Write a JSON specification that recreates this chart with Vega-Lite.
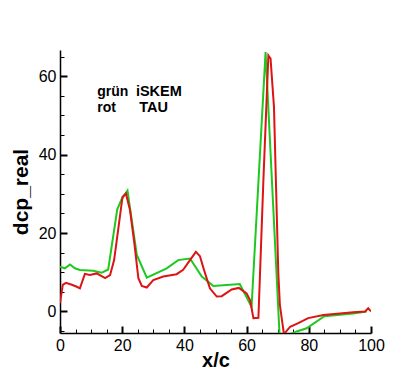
{
  "$schema": "https://vega.github.io/schema/vega-lite/v6.json",
  "autosize": "none",
  "width": 311,
  "height": 283,
  "padding": {"left": 60, "top": 50, "right": 46, "bottom": 40},
  "background": "white",
  "config": {"view": {"stroke": null}, "font": "Liberation Sans"},
  "datasets": {
    "green": [
      {"x": 0, "y": 11.4}, {"x": 1.6, "y": 11.0}, {"x": 3.2, "y": 12.0}, {"x": 4.8, "y": 11.0}, {"x": 6.4, "y": 10.6},
      {"x": 10.7, "y": 10.4}, {"x": 13.4, "y": 9.9}, {"x": 15.5, "y": 10.7}, {"x": 18.4, "y": 26.0}, {"x": 19.8, "y": 28.6},
      {"x": 21.7, "y": 30.8}, {"x": 24.7, "y": 14.4}, {"x": 27.9, "y": 8.6}, {"x": 34.3, "y": 11.0}, {"x": 38.0, "y": 13.1},
      {"x": 41.8, "y": 13.5}, {"x": 45.6, "y": 8.9}, {"x": 49.3, "y": 6.5}, {"x": 57.8, "y": 7.0}, {"x": 61.6, "y": 1.2},
      {"x": 66.1, "y": 66.2}, {"x": 70.6, "y": -6.0}, {"x": 73.5, "y": -6.0}, {"x": 76.1, "y": -5.1}, {"x": 79.3, "y": -4.3},
      {"x": 85.0, "y": -1.2}, {"x": 94.3, "y": -0.5}, {"x": 98.6, "y": 0}
    ],
    "red": [
      {"x": 0, "y": 2.1}, {"x": 0.9, "y": 6.8}, {"x": 1.9, "y": 7.3}, {"x": 3.8, "y": 6.8}, {"x": 5.4, "y": 6.3},
      {"x": 6.4, "y": 5.9}, {"x": 8.0, "y": 9.6}, {"x": 9.6, "y": 9.3}, {"x": 11.8, "y": 9.7}, {"x": 14.5, "y": 8.5},
      {"x": 16.1, "y": 9.3}, {"x": 17.4, "y": 13.1}, {"x": 18.7, "y": 20.8}, {"x": 20.1, "y": 29.2}, {"x": 21.2, "y": 30.1},
      {"x": 22.5, "y": 25.9}, {"x": 23.9, "y": 17.4}, {"x": 25.2, "y": 8.5}, {"x": 26.3, "y": 6.5}, {"x": 27.9, "y": 6.1},
      {"x": 30.0, "y": 8.0}, {"x": 33.2, "y": 8.9}, {"x": 37.5, "y": 9.5}, {"x": 39.6, "y": 10.6}, {"x": 41.8, "y": 13.1},
      {"x": 43.7, "y": 15.2}, {"x": 45.0, "y": 14.1}, {"x": 46.3, "y": 10.6}, {"x": 48.2, "y": 5.9}, {"x": 50.4, "y": 3.8},
      {"x": 52.0, "y": 3.9}, {"x": 55.2, "y": 5.6}, {"x": 57.5, "y": 6.0}, {"x": 60.0, "y": 4.6}, {"x": 61.1, "y": 2.9},
      {"x": 62.2, "y": -1.7}, {"x": 63.8, "y": -1.6}, {"x": 65.4, "y": 33.5}, {"x": 67.0, "y": 65.3}, {"x": 67.7, "y": 64.5},
      {"x": 68.8, "y": 52.2}, {"x": 70.2, "y": 9.7}, {"x": 70.7, "y": 1.7}, {"x": 72.0, "y": -5.8}, {"x": 74.0, "y": -3.9},
      {"x": 76.6, "y": -3.0}, {"x": 79.8, "y": -1.7}, {"x": 84.7, "y": -0.9}, {"x": 90.0, "y": -0.5}, {"x": 94.3, "y": -0.2},
      {"x": 98.1, "y": 0}, {"x": 99.1, "y": 0.8}, {"x": 100, "y": 0}
    ],
    "labels": [
      {"x": 12.0, "y": 55.0, "text": "grün", "kind": "lower"},
      {"x": 24.4, "y": 55.0, "text": "iSKEM", "kind": "upper"},
      {"x": 12.0, "y": 51.0, "text": "rot", "kind": "lower"},
      {"x": 25.5, "y": 51.0, "text": "TAU", "kind": "upper"}
    ]
  },
  "resolve": {"axis": {"x": "independent", "y": "independent"}},
  "layer": [
    {
      "data": {"name": "green"},
      "mark": {"type": "line", "color": "#1ec81e", "strokeWidth": 2, "clip": true},
      "encoding": {
        "x": {"field": "x", "type": "quantitative", "scale": {"domain": [0, 100], "nice": false},
          "axis": {"orient": "bottom", "values": [0, 20, 40, 60, 80, 100], "title": "x/c", "grid": false, "ticks": false,
            "domainColor": "black", "domainWidth": 1.5, "labelFlush": false, "labelOverlap": false,
            "labelPadding": 4, "labelFontSize": 16, "labelColor": "black", "labelFont": "Liberation Sans",
            "titleFontSize": 20, "titleFontWeight": "bold", "titleColor": "black", "titleFont": "Liberation Sans", "titlePadding": -3}},
        "y": {"field": "y", "type": "quantitative", "scale": {"domain": [-5.5, 66.7], "nice": false, "zero": false},
          "axis": {"orient": "left", "values": [0, 20, 40, 60], "title": "dcp_real", "grid": false, "ticks": false,
            "domainColor": "black", "domainWidth": 1.5, "labelFlush": false, "labelOverlap": false,
            "labelPadding": 4, "labelFontSize": 16, "labelColor": "black", "labelFont": "Liberation Sans",
            "titleFontSize": 21, "titleFontWeight": "bold", "titleColor": "black", "titleFont": "Liberation Sans", "titlePadding": 7}}
      }
    },
    {
      "data": {"name": "red"},
      "mark": {"type": "line", "color": "#dc1414", "strokeWidth": 2, "clip": true},
      "encoding": {
        "x": {"field": "x", "type": "quantitative",
          "axis": {"orient": "bottom", "values": [0, 20, 40, 60, 80, 100], "title": null, "labels": false, "domain": false, "grid": false,
            "tickColor": "black", "tickWidth": 2, "tickSize": 7, "offset": -7}},
        "y": {"field": "y", "type": "quantitative",
          "axis": {"orient": "left", "values": [0, 20, 40, 60], "title": null, "labels": false, "domain": false, "grid": false,
            "tickColor": "black", "tickWidth": 2, "tickSize": 7, "offset": -7}}
      }
    },
    {
      "data": {"name": "labels"},
      "transform": [{"filter": "datum.kind === 'lower'"}],
      "mark": {"type": "text", "align": "left", "baseline": "alphabetic", "fontSize": 14, "fontWeight": "bold", "font": "Liberation Sans", "color": "black"},
      "encoding": {
        "x": {"field": "x", "type": "quantitative",
          "axis": {"orient": "bottom", "values": [5, 10, 15, 25, 30, 35, 45, 50, 55, 65, 70, 75, 85, 90, 95], "title": null, "labels": false, "domain": false, "grid": false, "tickColor": "black", "tickWidth": 1, "tickSize": 4, "offset": -4}},
        "y": {"field": "y", "type": "quantitative",
          "axis": {"orient": "left", "values": [-5, 5, 10, 15, 25, 30, 35, 45, 50, 55, 65], "title": null, "labels": false, "domain": false, "grid": false, "tickColor": "black", "tickWidth": 1, "tickSize": 4, "offset": -4}},
        "text": {"field": "text"}
      }
    },
    {
      "data": {"name": "labels"},
      "transform": [{"filter": "datum.kind === 'upper'"}],
      "mark": {"type": "text", "align": "left", "baseline": "alphabetic", "fontSize": 14.5, "fontWeight": "bold", "font": "Liberation Sans", "color": "black", "letterSpacing": 1.3},
      "encoding": {
        "x": {"field": "x", "type": "quantitative", "axis": null},
        "y": {"field": "y", "type": "quantitative", "axis": null},
        "text": {"field": "text"}
      }
    }
  ]
}
